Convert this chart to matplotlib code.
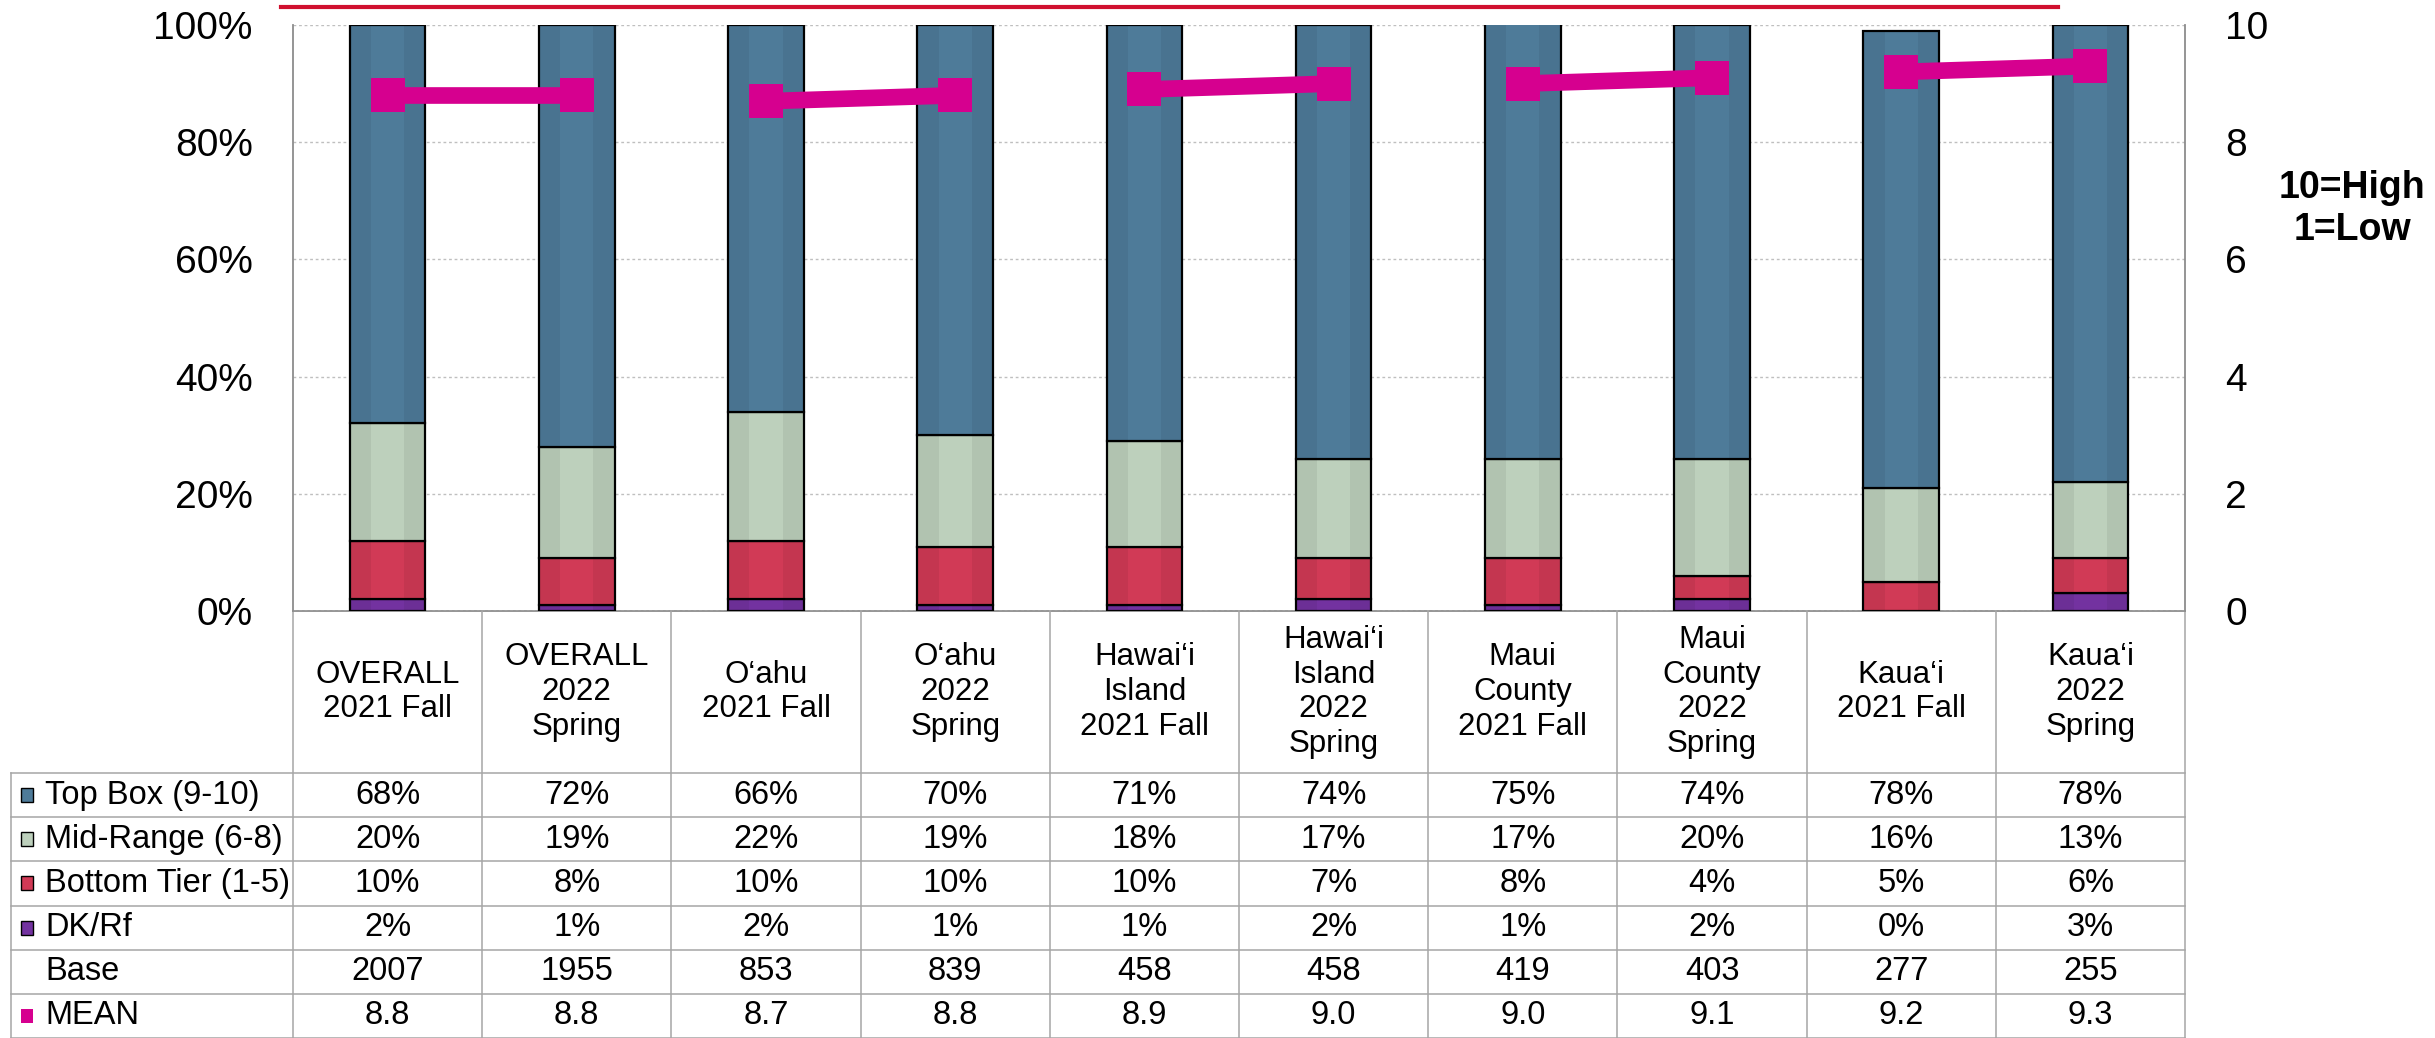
import matplotlib
matplotlib.use("Agg")
import matplotlib.pyplot as plt
import numpy as np
from matplotlib.lines import Line2D
from matplotlib.patches import Rectangle

plt.rcParams['font.family'] = ['Liberation Sans', 'DejaVu Sans']

# ---------------- data ----------------
categories = ["OVERALL\n2021 Fall", "OVERALL\n2022\nSpring",
              "O\u2018ahu\n2021 Fall", "O\u2018ahu\n2022\nSpring",
              "Hawai\u2018i\nIsland\n2021 Fall", "Hawai\u2018i\nIsland\n2022\nSpring",
              "Maui\nCounty\n2021 Fall", "Maui\nCounty\n2022\nSpring",
              "Kaua\u2018i\n2021 Fall", "Kaua\u2018i\n2022\nSpring"]
top_box = [68, 72, 66, 70, 71, 74, 75, 74, 78, 78]
mid_range = [20, 19, 22, 19, 18, 17, 17, 20, 16, 13]
bottom_tier = [10, 8, 10, 10, 10, 7, 8, 4, 5, 6]
dk_rf = [2, 1, 2, 1, 1, 2, 1, 2, 0, 3]
base = [2007, 1955, 853, 839, 458, 458, 419, 403, 277, 255]
mean = [8.8, 8.8, 8.7, 8.8, 8.9, 9.0, 9.0, 9.1, 9.2, 9.3]
pairs = [(0, 1), (2, 3), (4, 5), (6, 7), (8, 9)]

series_names = ["Top Box (9-10)", "Mid-Range (6-8)", "Bottom Tier (1-5)", "DK/Rf"]
c_top, c_mid, c_bot, c_dk = "#4e7b99", "#bdd0bc", "#d13a56", "#7332a0"
c_mean = "#d6008f"

# ---------------- figure ----------------
FW, FH = 2435, 1038
fig = plt.figure(figsize=(FW / 100, FH / 100), dpi=100)

L, R, T, B = 293, 2185, 25, 611
ax = fig.add_axes([L / FW, 1 - B / FH, (R - L) / FW, (B - T) / FH])
ax.set_facecolor("none")
x = np.arange(len(categories))
ax.set_xlim(-0.5, len(categories) - 0.5)
ax.set_ylim(0, 1)

bw = 0.40
stack = [(dk_rf, c_dk), (bottom_tier, c_bot), (mid_range, c_mid), (top_box, c_top)]
bottom = np.zeros(len(x))
for vals, col in stack:
    v = np.array(vals) / 100.0
    ax.bar(x, v, bw, bottom=bottom, color=col, edgecolor="black", linewidth=1.6, zorder=3)
    # subtle shading stripes
    for off, w in [(-bw / 2, bw * 0.28), (bw * 0.22, bw * 0.28)]:
        ax.bar(x + off + w / 2, v, w, bottom=bottom, color="black", alpha=0.06,
               linewidth=0, zorder=3.5)
    bottom += v

ax.set_yticks(np.arange(0, 1.01, 0.2))
ax.set_yticklabels([f"{int(round(t * 100))}%" for t in np.arange(0, 1.01, 0.2)], fontsize=28)
ax.tick_params(axis="y", length=0, pad=29)
ax.set_xticks([])
ax.grid(axis="y", color="#bfbfbf", linestyle=(0, (2, 2)), linewidth=1, zorder=0)
for s in ["top", "bottom", "right"]:
    ax.spines[s].set_visible(False)
ax.spines["left"].set_color("#8c8c8c")
ax.spines["left"].set_linewidth(1.3)

ax2 = ax.twinx()
ax2.set_ylim(0, 10)
ax2.set_yticks(np.arange(0, 11, 2))
ax2.set_yticklabels([str(t) for t in range(0, 11, 2)], fontsize=28)
ax2.tick_params(axis="y", length=0, pad=29)
for s in ["top", "bottom", "left"]:
    ax2.spines[s].set_visible(False)
ax2.spines["right"].set_color("#8c8c8c")
ax2.spines["right"].set_linewidth(1.3)
for a, b in pairs:
    ax2.plot([x[a], x[b]], [mean[a], mean[b]], color=c_mean, linewidth=12,
             marker="s", markersize=25, markerfacecolor=c_mean, markeredgewidth=0,
             solid_capstyle="butt", zorder=5)

# ---------------- table (pixel overlay) ----------------
tab = fig.add_axes([0, 0, 1, 1], zorder=-1)
tab.set_xlim(0, FW)
tab.set_ylim(FH, 0)
tab.axis("off")

gc = "#a6a6a6"
lw = 1.1
colw = (R - L) / len(categories)
hdr_top, hdr_bot = B, 773
rowh = (FH - hdr_bot) / 6.0
tleft = 11

# header row
tab.plot([L, R], [hdr_top, hdr_top], color="#8c8c8c", lw=1.3)
for k in range(len(categories) + 1):
    xx = L + k * colw
    tab.plot([xx, xx], [hdr_top, FH], color=gc, lw=lw)
for i, cat in enumerate(categories):
    tab.text(L + (i + 0.5) * colw, (hdr_top + hdr_bot) / 2, cat, ha="center", va="center",
             fontsize=22.5, linespacing=1.2)

# data rows
row_labels = series_names + ["Base", "MEAN"]
row_colors = [c_top, c_mid, c_bot, c_dk, None, c_mean]
row_vals = [[f"{v}%" for v in top_box], [f"{v}%" for v in mid_range],
            [f"{v}%" for v in bottom_tier], [f"{v}%" for v in dk_rf],
            [str(v) for v in base], [f"{v:.1f}" for v in mean]]
for j in range(7):
    yy = hdr_bot + j * rowh
    tab.plot([tleft, R], [yy, yy], color=gc, lw=lw)
tab.plot([tleft, tleft], [hdr_bot, FH], color=gc, lw=lw)

for j, (lab, col, vals) in enumerate(zip(row_labels, row_colors, row_vals)):
    yc = hdr_bot + (j + 0.5) * rowh
    if col is not None:
        ec = "none" if lab == "MEAN" else "black"
        tab.add_patch(Rectangle((21, yc - 7), 12, 14, facecolor=col, edgecolor=ec, lw=1.0))
    tab.text(45, yc, lab, ha="left", va="center", fontsize=23.5)
    for i, v in enumerate(vals):
        tab.text(L + (i + 0.5) * colw, yc, v, ha="center", va="center", fontsize=23.5)

# decorative red line on top
fig.add_artist(Line2D([281 / FW, 2058 / FW], [1 - 7 / FH, 1 - 7 / FH], color="#d0102f",
                      linewidth=3, transform=fig.transFigure))

# scale annotation
fig.text(2352 / FW, 1 - 209 / FH, "10=High\n1=Low", ha="center", va="center",
         fontsize=27, fontweight="bold", linespacing=1.2)

fig.savefig("out.png", dpi=100)
